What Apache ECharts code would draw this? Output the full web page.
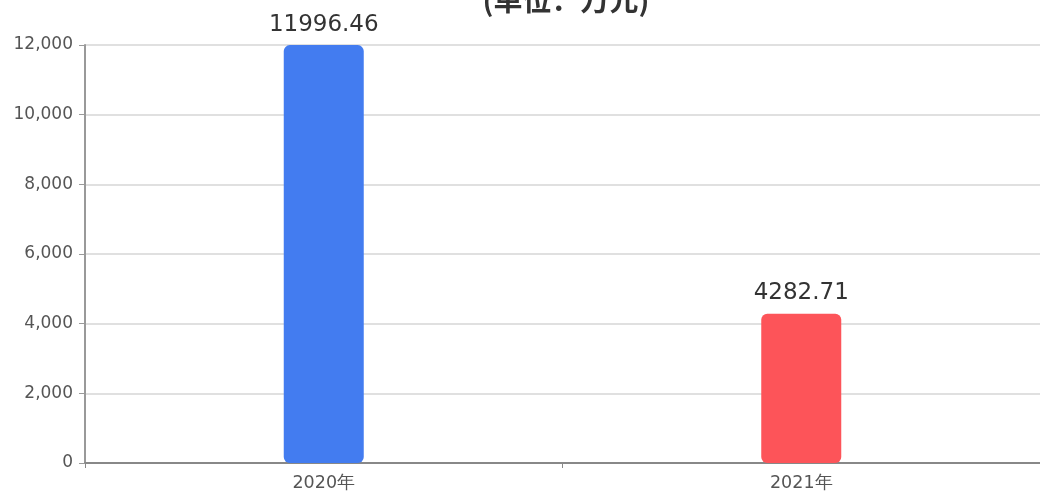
<!DOCTYPE html>
<html><head><meta charset="utf-8">
<script src="https://cdn.jsdelivr.net/npm/echarts@6/dist/echarts.min.js"></script>
<style>html,body{margin:0;padding:0;background:#fff}#c{width:1040px;height:493px}</style>
</head><body><div id="c"></div>
<script>
const titleText = '(单位：万元)';
const categories = ['2020年', '2021年'];
const values = [11996.46, 4282.71];
const barColors = ['#437CF0', '#FD5459'];
const yTicks = { min: 0, max: 12000, interval: 2000 };

const chart = echarts.init(document.getElementById('c'));
chart.setOption({
  animation: false,
  title: { text: titleText, left: 561, textAlign: 'center', top: -20,
    textStyle: { fontSize: 29, fontWeight: 'bold', color: '#333', fontFamily: 'Noto Sans CJK SC' } },
  grid: { left: 85, width: 958, top: 45, bottom: 30 },
  xAxis: { type: 'category', data: categories,
    axisLine: { lineStyle: { color: '#888', width: 2 } },
    axisTick: { show: true, lineStyle: { color: '#888' } },
    axisLabel: { fontSize: 17.5, color: '#555', margin: 11, fontFamily: 'DejaVu Sans' } },
  yAxis: { type: 'value', min: yTicks.min, max: yTicks.max, interval: yTicks.interval,
    axisLine: { show: true, lineStyle: { color: '#999', width: 2 } },
    axisTick: { show: true, length: 6, lineStyle: { color: '#999' } },
    axisLabel: { fontSize: 17, color: '#555', margin: 12, fontFamily: 'DejaVu Sans',
      formatter: v => v.toLocaleString('en-US') },
    splitLine: { lineStyle: { color: '#e0e0e0', width: 2 } } },
  series: [{ type: 'bar', barWidth: 80,
    data: values.map((v, i) => ({ value: v, itemStyle: { color: barColors[i], borderRadius: 6 } })),
    label: { show: true, position: 'top', fontSize: 23, color: '#333', distance: 9, fontFamily: 'DejaVu Sans',
      formatter: p => p.value.toFixed(2) } }]
});
</script></body></html>
